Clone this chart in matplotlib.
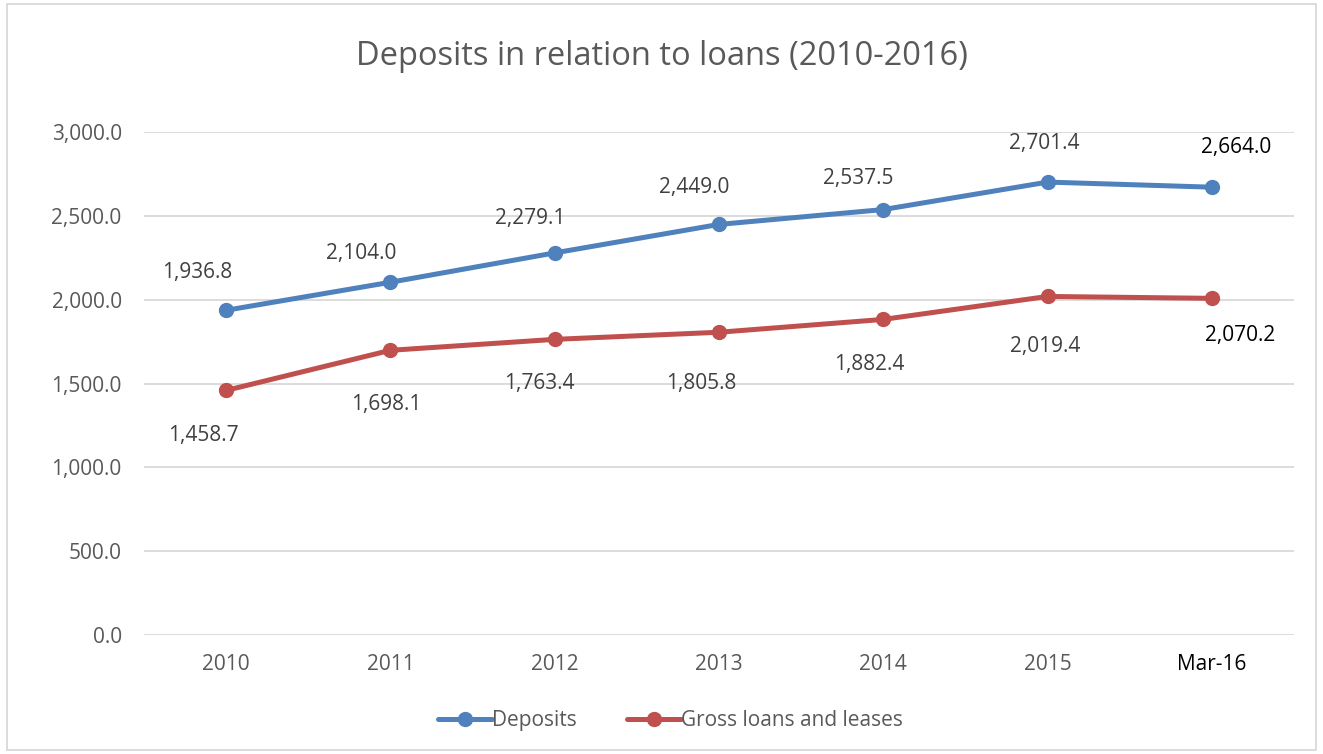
import matplotlib.pyplot as plt
from matplotlib.ticker import FuncFormatter
from matplotlib.patches import Rectangle

# chart values
categories = ['2010', '2011', '2012', '2013', '2014', '2015', 'Mar-16']
deposits = [1936.8, 2104.0, 2279.1, 2449.0, 2537.5, 2701.4, 2671.0]
loans = [1458.7, 1698.1, 1763.4, 1805.8, 1882.4, 2019.4, 2008.0]
deposit_labels = ['1,936.8', '2,104.0', '2,279.1', '2,449.0', '2,537.5', '2,701.4', '2,664.0']
loan_labels = ['1,458.7', '1,698.1', '1,763.4', '1,805.8', '1,882.4', '2,019.4', '2,070.2']

plt.rcParams['font.family'] = ['Open Sans', 'DejaVu Sans']

blue = '#4F81BD'
red = '#C0504D'
grey = '#595959'

fig = plt.figure(figsize=(13.23, 7.54), dpi=100)
ax = fig.add_axes([0.1088, 0.1578, 0.8693, 0.6671])

x = list(range(len(categories)))
ax.plot(x, deposits, color=blue, lw=3.6, marker='o', ms=10, label='Deposits',
        solid_capstyle='round')
ax.plot(x, loans, color=red, lw=3.6, marker='o', ms=10, label='Gross loans and leases',
        solid_capstyle='round')

# label offsets in pixels (dx, dy)
dep_shift = [(-29, 38), (-29, 29), (-24, 34), (-25, 37), (-25, 31), (-3, 39), (24, 40)]
loan_shift = [(-23, -45), (-4, -54), (-15, -44), (-18, -51), (-14, -45), (-2, -50), (28, -37)]
for i, (v, t) in enumerate(zip(deposits, deposit_labels)):
    c = 'black' if i == len(x) - 1 else '#404040'
    ax.annotate(t, (i, v), xytext=dep_shift[i], textcoords='offset pixels',
                ha='center', va='center', fontsize=15, color=c)
for i, (v, t) in enumerate(zip(loans, loan_labels)):
    c = 'black' if i == len(x) - 1 else '#404040'
    ax.annotate(t, (i, v), xytext=loan_shift[i], textcoords='offset pixels',
                ha='center', va='center', fontsize=15, color=c)

ax.set_xlim(-0.5, len(x) - 0.5)
ax.set_ylim(0, 3000)
ax.set_yticks(range(0, 3001, 500))
ax.yaxis.set_major_formatter(FuncFormatter(lambda v, p: f'{v:,.1f}'))
ax.set_xticks(x)
ax.set_xticklabels(categories)
for i, lab in enumerate(ax.get_xticklabels()):
    lab.set_color('black' if i == len(x) - 1 else grey)
ax.tick_params(axis='y', length=0, pad=16, labelsize=15, labelcolor=grey)
ax.tick_params(axis='x', length=0, pad=14, labelsize=15)
ax.grid(axis='y', color='#D9D9D9', lw=1.3)
ax.set_axisbelow(True)
for s in ax.spines.values():
    s.set_visible(False)

fig.text(0.5, 0.925, 'Deposits in relation to loans (2010-2016)', ha='center', va='center',
         fontsize=23.5, color=grey)
fig.legend(loc='center', bbox_to_anchor=(0.507, 0.044), ncol=2, frameon=False,
           fontsize=15, labelcolor=grey, handlelength=2.6, handletextpad=0.0,
           columnspacing=2.4)
fig.patches.append(Rectangle((0.005, 0.005), 0.99, 0.99, transform=fig.transFigure,
                             fill=False, edgecolor='#D9D9D9', lw=1.3))

fig.savefig('out.png', dpi=100)
